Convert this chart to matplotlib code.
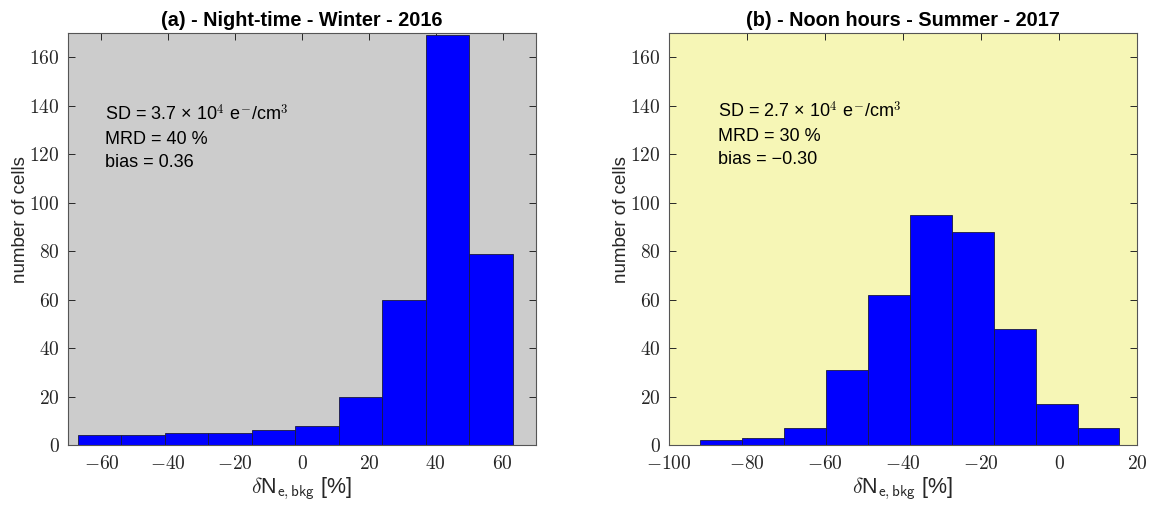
import numpy as np
import matplotlib
matplotlib.use("Agg")
import matplotlib.pyplot as plt
from matplotlib.ticker import FuncFormatter, MultipleLocator

plt.rcParams['font.family'] = ['Liberation Sans', 'DejaVu Sans']
plt.rcParams['mathtext.fontset'] = 'cm'

# ---- data ----
edges_a = [-67, -54, -41, -28, -15, -2, 11, 24, 37, 50, 63]
counts_a = [4, 4, 5, 5, 6, 8, 20, 60, 169, 79]
edges_b = [-92.0, -81.25, -70.5, -59.75, -49.0, -38.25, -27.5, -16.75, -6.0, 4.75, 15.5]
counts_b = [2, 3, 7, 31, 62, 95, 88, 48, 17, 7]

titles = ["(a) - Night-time - Winter - 2016", "(b) - Noon hours - Summer - 2017"]
stats = [
    ["SD = 3.7 × 10$^{\\mathsf{4}}$ e$^{\\mathsf{-}}$/cm$^{\\mathsf{3}}$", "MRD = 40 %", "bias = 0.36"],
    ["SD = 2.7 × 10$^{\\mathsf{4}}$ e$^{\\mathsf{-}}$/cm$^{\\mathsf{3}}$", "MRD = 30 %", "bias = \u22120.30"],
]
xlims = [(-70, 70), (-100, 20)]
bg_colors = ["#cccccc", "#f6f6b6"]

fig = plt.figure(figsize=(11.5, 5.09), dpi=100)
axes = [fig.add_axes([68/1150, 1-445/509, 468/1150, 412/509]),
        fig.add_axes([669/1150, 1-445/509, 468/1150, 412/509])]

axis_col = "#262626"
fmt = FuncFormatter(lambda v, p: "$%d$" % int(round(v)) if v >= 0 else "$-%d$" % int(round(-v)))

text_x = [0.079, 0.105]
text_y = [[0.787, 0.730, 0.674], [0.795, 0.739, 0.681]]

for k, (ax, edges, counts, title, st, xl, bg) in enumerate(zip(
        axes, [edges_a, edges_b], [counts_a, counts_b], titles, stats, xlims, bg_colors)):
    e = np.array(edges)
    ax.bar(e[:-1], counts, width=np.diff(e), align='edge', color='#0000ff',
           edgecolor='#1a1a40', linewidth=0.6, zorder=2)
    ax.set_facecolor(bg)
    ax.set_xlim(*xl)
    ax.set_ylim(0, 170)
    ax.xaxis.set_major_locator(MultipleLocator(20))
    ax.yaxis.set_major_locator(MultipleLocator(20))
    ax.xaxis.set_major_formatter(fmt)
    ax.yaxis.set_major_formatter(fmt)
    ax.tick_params(direction='in', top=True, right=True, length=5, width=0.7,
                   color=axis_col, labelcolor=axis_col, labelsize=14, pad=6)
    ax.tick_params(axis='x', pad=7)
    for s in ax.spines.values():
        s.set_color("#555555")
        s.set_linewidth(0.8)
    ax.set_title(title, fontsize=14.3, fontweight='bold', pad=5, color='black')
    ax.set_ylabel("number of cells", fontsize=13.5, color=axis_col)
    ax.yaxis.set_label_coords(-0.083, 0.546)
    ax.set_xlabel(r"$\delta$N$_{\mathsf{e,bkg}}$ [%]", fontsize=15.5, color=axis_col, labelpad=2)
    for i, line in enumerate(st):
        ax.text(text_x[k], text_y[k][i], line, transform=ax.transAxes,
                fontsize=13, color='black', va='baseline', ha='left')

fig.savefig("out.png", dpi=100)
